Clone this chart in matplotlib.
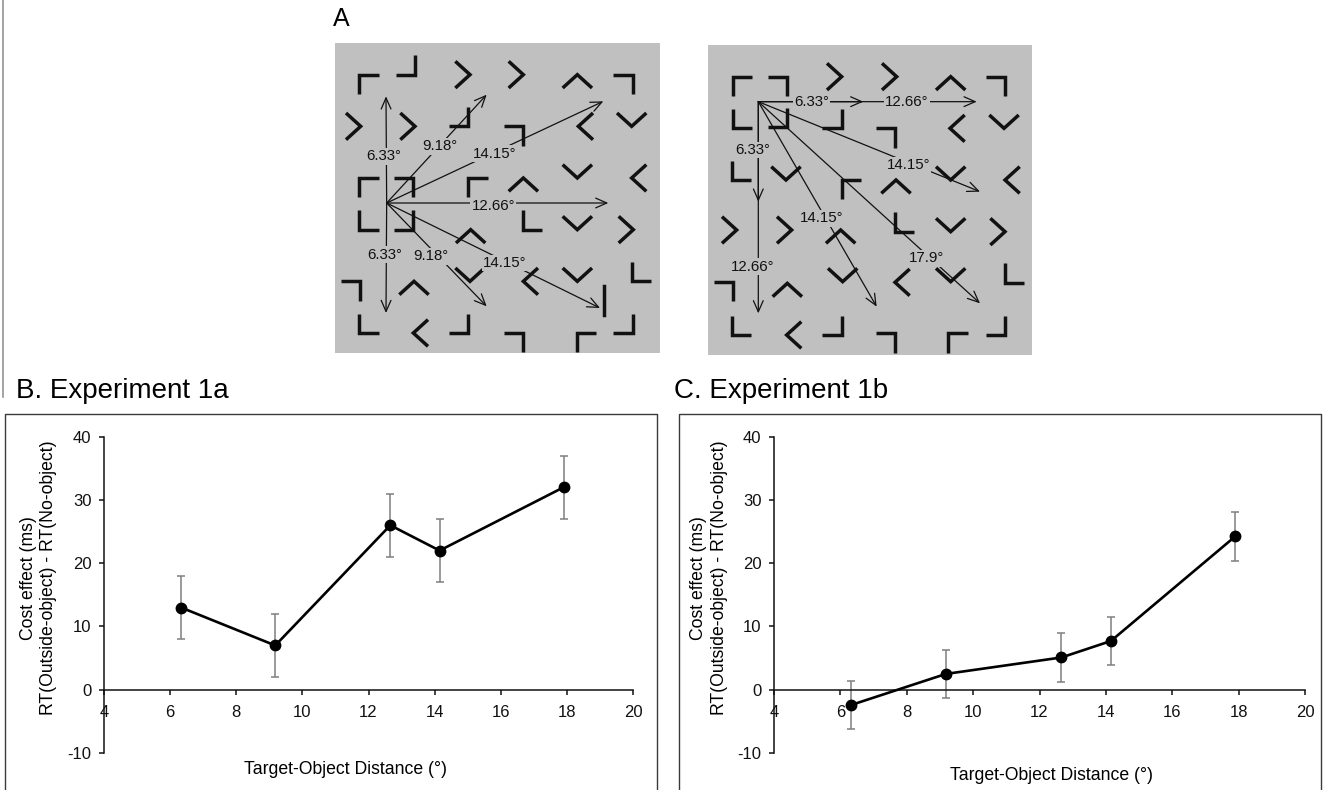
import matplotlib
matplotlib.use("Agg")
import matplotlib.pyplot as plt
from matplotlib.lines import Line2D
from matplotlib.patches import FancyArrowPatch

plt.rcParams['font.family'] = ['Liberation Sans', 'DejaVu Sans']

W, H = 1325, 790
fig = plt.figure(figsize=(W / 100, H / 100), dpi=100)


def fx(x):
    return x / W


def fy(y):
    return 1 - y / H


# ---------------- data: cost effect by target-object distance ----------------
distances = [6.33, 9.18, 12.66, 14.15, 17.9]
cost_1a = [13, 7, 26, 22, 32]
err_1a = [5, 5, 5, 5, 5]
cost_1b = [-2.4, 2.5, 5.1, 7.7, 24.25]
err_1b = [3.85, 3.85, 3.8, 3.8, 3.85]
x_ticks = [4, 6, 8, 10, 12, 14, 16, 18, 20]
y_ticks = [-10, 0, 10, 20, 30, 40]
x_label = "Target-Object Distance (°)"
y_label = "Cost effect (ms)\nRT(Outside-object) - RT(No-object)"

# ---------------- stimulus displays (layout units) ----------------
# corners: (orientation, x, y of the corner vertex)
corners_a = [
    ('TL', 88, 225), ('BR', 255, 225), ('TR', 908, 225),
    ('BR', 415, 380), ('TR', 580, 380),
    ('TL', 88, 535), ('TR', 250, 535), ('BL', 88, 690), ('BR', 250, 690),
    ('TL', 415, 535), ('BL', 578, 690),
    ('TR', 90, 845), ('BL', 905, 845),
    ('BL', 88, 1000), ('BR', 415, 1000), ('TR', 580, 1000),
    ('TL', 740, 1000), ('BR', 908, 1000),
]
# chevrons: (pointing direction, x, y of the apex)
chevrons_a = [
    ('R', 420, 225), ('R', 580, 225), ('U', 742, 225),
    ('R', 92, 380), ('R', 255, 380), ('L', 745, 380), ('D', 905, 380),
    ('U', 580, 535), ('D', 742, 535), ('L', 905, 535),
    ('D', 742, 690), ('R', 910, 690), ('U', 422, 690),
    ('U', 252, 845), ('D', 420, 845), ('L', 580, 845), ('D', 742, 845),
    ('L', 250, 1000),
]
bars_a = [(822, 860, 945)]
origin_a = (170, 610)
# arrows: (end x, end y, label, label x, label y)
arrows_a = [
    (168, 290, '6.33°', 160, 470),
    (470, 285, '9.18°', 330, 440),
    (820, 305, '14.15°', 495, 462),
    (835, 610, '12.66°', 490, 620),
    (168, 940, '6.33°', 165, 765),
    (470, 920, '9.18°', 302, 770),
    (810, 925, '14.15°', 525, 790),
]

corners_b = [
    ('TL', 98, 140), ('TR', 262, 140), ('TR', 915, 140),
    ('BL', 98, 295), ('BR', 262, 292), ('BR', 425, 295), ('TR', 585, 295),
    ('BL', 95, 450), ('TL', 425, 450),
    ('BL', 585, 605),
    ('TR', 100, 755), ('BL', 915, 758),
    ('BL', 95, 915), ('BR', 425, 915), ('TR', 585, 910),
    ('TL', 745, 910), ('BR', 915, 915),
]
chevrons_b = [
    ('R', 425, 140), ('R', 590, 140), ('U', 752, 140),
    ('L', 750, 295), ('D', 912, 295),
    ('D', 258, 450), ('U', 588, 450), ('D', 752, 450), ('L', 915, 450),
    ('R', 110, 600), ('R', 275, 600), ('U', 422, 600), ('D', 752, 605),
    ('R', 915, 605),
    ('U', 262, 760), ('D', 428, 755), ('L', 585, 757), ('D', 752, 755),
    ('L', 260, 915),
]
bars_b = []
origin_b = (175, 215)
arrows_b = [
    (490, 215, '6.33°', 335, 215),
    (830, 215, '12.66°', 620, 215),
    (175, 515, '6.33°', 157, 360),
    (175, 850, '12.66°', 157, 710),
    (840, 485, '14.15°', 625, 405),
    (530, 830, '14.15°', 365, 565),
    (840, 820, '17.9°', 680, 685),
]

GRAY_BG = '#c0c0c0'
INK = '#111111'
ARM = 58
CH_W, CH_H = 44, 40


def corner_path(kind, x, y):
    dx = ARM if kind in ('TL', 'BL') else -ARM
    dy = ARM if kind in ('TL', 'TR') else -ARM
    return [x + dx, x, x], [y, y, y + dy]


def chevron_path(kind, x, y):
    if kind == 'R':
        return [x - CH_W, x, x - CH_W], [y - CH_H, y, y + CH_H]
    if kind == 'L':
        return [x + CH_W, x, x + CH_W], [y - CH_H, y, y + CH_H]
    if kind == 'U':
        return [x - CH_W, x, x + CH_W], [y + CH_H, y, y + CH_H]
    return [x - CH_W, x, x + CH_W], [y - CH_H, y, y - CH_H]


def draw_display(rect_px, xlim, ylim, corners, chevrons, bars, origin, arrows):
    left, top, right, bottom = rect_px
    ax = fig.add_axes([fx(left), fy(bottom), (right - left) / W, (bottom - top) / H])
    ax.set_xlim(*xlim)
    ax.set_ylim(*ylim)
    ax.set_xticks([])
    ax.set_yticks([])
    for s in ax.spines.values():
        s.set_visible(False)
    ax.patch.set_facecolor(GRAY_BG)
    for kind, x, y in corners:
        xs, ys = corner_path(kind, x, y)
        ax.plot(xs, ys, color=INK, lw=2.5, solid_joinstyle='miter',
                solid_capstyle='butt', zorder=2)
    for kind, x, y in chevrons:
        xs, ys = chevron_path(kind, x, y)
        ax.plot(xs, ys, color=INK, lw=2.5, solid_joinstyle='miter',
                solid_capstyle='butt', zorder=2)
    for x, y0, y1 in bars:
        ax.plot([x, x], [y0, y1], color=INK, lw=2.5, zorder=2)
    ox, oy = origin
    for ex, ey, lab, lx, ly in arrows:
        arr = FancyArrowPatch((ox, oy), (ex, ey),
                              arrowstyle='->,head_length=0.5,head_width=0.22',
                              mutation_scale=16, lw=0.9, color=INK,
                              shrinkA=0, shrinkB=0, zorder=3)
        ax.add_patch(arr)
        ax.text(lx, ly, lab, ha='center', va='center', fontsize=10.8,
                color=INK, zorder=4,
                bbox=dict(boxstyle='square,pad=0.08', fc=GRAY_BG, ec='none'))
    return ax


draw_display((335, 43, 660, 353), (15, 990), (1060, 130),
             corners_a, chevrons_a, bars_a, origin_a, arrows_a)
draw_display((708.3, 45, 1031.7, 355), (25, 995), (975, 45),
             corners_b, chevrons_b, bars_b, origin_b, arrows_b)

fig.text(fx(333), fy(19), 'A', fontsize=18, ha='left', va='center')


# ---------------- line charts ----------------
def draw_chart(left, right, values, errors, title, title_x, ylab_x, xlab_x, xlab_y, frame):
    top, bottom = 436.7, 753.0
    ax = fig.add_axes([fx(left), fy(bottom), (right - left) / W, (bottom - top) / H])
    ax.set_xlim(4, 20)
    ax.set_ylim(-10, 40)
    ax.patch.set_alpha(0)
    ax.spines['top'].set_visible(False)
    ax.spines['right'].set_visible(False)
    ax.spines['bottom'].set_position(('data', 0))
    for s in ('left', 'bottom'):
        ax.spines[s].set_linewidth(1.1)
        ax.spines[s].set_color('#111111')
    ax.set_xticks(x_ticks)
    ax.set_yticks(y_ticks)
    ax.set_xticklabels([str(t) for t in x_ticks])
    ax.set_yticklabels([str(t) for t in y_ticks])
    ax.tick_params(axis='x', direction='out', length=3.6, width=1.1, pad=7.5,
                   labelsize=12, colors='#111111')
    ax.tick_params(axis='y', direction='out', length=3.6, width=1.1, pad=5.5,
                   labelsize=12, colors='#111111')
    ax.errorbar(distances, values, yerr=errors, fmt='none', ecolor='#7f7f7f',
                elinewidth=1.1, capsize=2.6, capthick=1.1, zorder=2)
    ax.plot(distances, values, color='black', lw=1.9, marker='o',
            markersize=7.5, markerfacecolor='black', markeredgecolor='black',
            zorder=3, clip_on=False)
    fig.text(fx(title_x), fy(391), title, fontsize=20, ha='left', va='center')
    fig.text(fx(ylab_x), fy(578), y_label, fontsize=12.7, rotation=90,
             ha='center', va='center', multialignment='center', linespacing=1.3)
    fig.text(fx(xlab_x), fy(xlab_y), x_label, fontsize=12.7, ha='center', va='center')
    fl, fr = frame
    fig.add_artist(Line2D([fx(fl), fx(fl), fx(fr), fx(fr)],
                          [fy(800), fy(413.5), fy(413.5), fy(800)],
                          color='#3a3a3a', lw=1.0, transform=fig.transFigure))
    return ax


draw_chart(104, 633, cost_1a, err_1a, 'B. Experiment 1a', 16, 38.5, 346, 769, (5, 657))
draw_chart(774, 1305, cost_1b, err_1b, 'C. Experiment 1b', 674, 709, 1051, 775, (679, 1321))

# thin rule along the left edge of the top row
fig.add_artist(Line2D([fx(2.5), fx(2.5)], [fy(0), fy(397)], color='#8a8a8a',
                      lw=1.1, transform=fig.transFigure))

fig.savefig('out.png', dpi=100, facecolor='white')
